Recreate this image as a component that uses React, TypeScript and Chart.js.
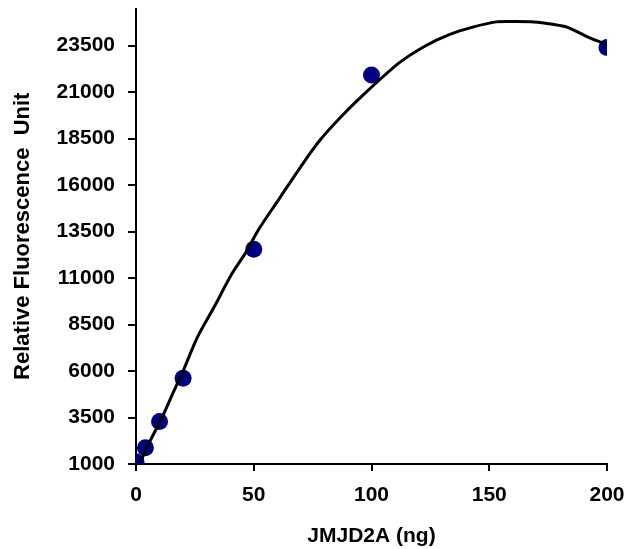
import React, { useEffect, useRef } from "react";
import { Chart, registerables } from "chart.js";

Chart.register(...registerables);

// Measured points: JMJD2A amount (ng) vs. relative fluorescence
const doseNg = [0, 4, 10, 20, 50, 100, 200];
const fluorescence = [1120, 1880, 3280, 5610, 12550, 21920, 23400];

// Fitted trend curve
const curveX = [1.7, 6, 11, 16, 20.5, 26, 33, 40.6, 47, 52, 61, 70, 78, 88, 99, 112, 123, 133, 143, 153, 160, 169, 177, 183, 191, 199];
const curveY = [1070, 2240, 3490, 4900, 6150, 7800, 9400, 11200, 12450, 13600, 15300, 17000, 18400, 19800, 21150, 22600, 23500, 24100, 24500, 24780, 24800, 24780, 24650, 24500, 24020, 23600];

const yTicks = [1000, 3500, 6000, 8500, 11000, 13500, 16000, 18500, 21000, 23500];
const xTicks = [0, 50, 100, 150, 200];

const xTitle = "JMJD2A (ng)";
const yTitle = "Relative Fluorescence  Unit";

export default function App() {
  const ref = useRef<HTMLCanvasElement>(null);

  useEffect(() => {
    if (!ref.current) return;
    const font = "'Liberation Sans', Arial, sans-serif";
    const chart = new Chart(ref.current, {
      type: "scatter",
      data: {
        datasets: [
          {
            label: "fit",
            data: curveX.map((x, i) => ({ x, y: curveY[i] })),
            showLine: true,
            borderColor: "#000000",
            borderWidth: 3,
            pointRadius: 0,
            tension: 0.3,
            fill: false,
          },
          {
            label: "data",
            data: doseNg.map((x, i) => ({ x, y: fluorescence[i] })),
            showLine: false,
            pointRadius: 8.5,
            pointBackgroundColor: "#000080",
            pointBorderColor: "#000080",
            pointBorderWidth: 0,
          },
        ],
      },
      options: {
        animation: false,
        responsive: true,
        maintainAspectRatio: false,
        layout: { padding: { top: 8, right: 25, left: 0, bottom: 0 } },
        plugins: { legend: { display: false }, tooltip: { enabled: false } },
        scales: {
          x: {
            type: "linear",
            min: 0,
            max: 200,
            afterBuildTicks: (s: any) => {
              s.ticks = xTicks.map((v) => ({ value: v }));
            },
            afterFit: (s: any) => {
              s.height = 85;
              s.paddingLeft = 0;
              s.paddingRight = 0;
            },
            grid: {
              drawOnChartArea: false,
              drawTicks: true,
              tickLength: 7,
              color: "#000",
              lineWidth: 2,
            },
            border: { display: true, color: "#000", width: 2 },
            ticks: {
              color: "#000",
              padding: 12,
              font: { family: font, size: 21, weight: "bold" },
              maxRotation: 0,
            },
            title: {
              display: true,
              text: xTitle,
              color: "#000",
              font: { family: font, size: 21, weight: "bold" },
              padding: { top: 0, bottom: 0 },
            },
          },
          y: {
            type: "linear",
            min: 1000,
            max: 25500,
            afterBuildTicks: (s: any) => {
              s.ticks = yTicks.map((v) => ({ value: v }));
            },
            afterFit: (s: any) => {
              s.width = 136;
              s.paddingTop = 0;
              s.paddingBottom = 0;
            },
            grid: {
              drawOnChartArea: false,
              drawTicks: true,
              tickLength: 8,
              color: "#000",
              lineWidth: 2,
            },
            border: { display: true, color: "#000", width: 2 },
            ticks: {
              color: "#000",
              padding: 13,
              font: { family: font, size: 21, weight: "bold" },
              callback: (v: any) => String(v),
            },
            title: {
              display: true,
              text: yTitle,
              color: "#000",
              font: { family: font, size: 22, weight: "bold" },
              padding: { top: 10, bottom: 0 },
            },
          },
        },
      },
    });
    return () => chart.destroy();
  }, []);

  return (
    <div style={{ position: "absolute", left: 0, top: 0, width: 632, height: 549, background: "#fff" }}>
      <canvas ref={ref} />
    </div>
  );
}
